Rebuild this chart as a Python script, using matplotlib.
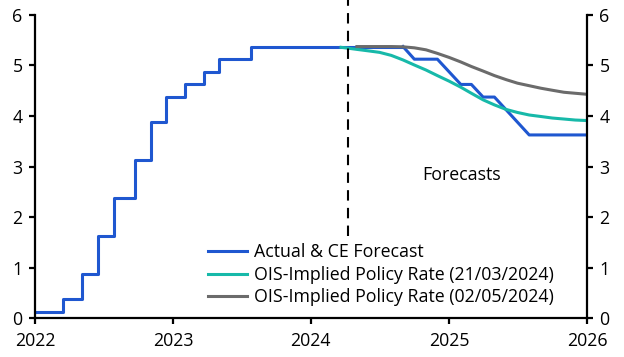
import matplotlib.pyplot as plt
import matplotlib.dates as mdates
import pandas as pd

# -----------------------------
# Data
# -----------------------------
# actual policy rate (midpoint), step changes
hist_dates = ["2022-01-01", "2022-03-17", "2022-05-05", "2022-06-16", "2022-07-28",
              "2022-09-22", "2022-11-03", "2022-12-15", "2023-02-02", "2023-03-23",
              "2023-05-04", "2023-07-27", "2024-09-01"]
hist_rate = [0.125, 0.375, 0.875, 1.625, 2.375, 3.125, 3.875, 4.375, 4.625, 4.875,
             5.125, 5.375, 5.375]

# CE forecast
fc_dates = ["2024-09-01", "2024-10-01", "2024-12-01", "2025-02-01", "2025-03-01",
            "2025-04-01", "2025-05-01", "2025-08-01", "2026-01-01"]
fc_rate = [5.375, 5.125, 5.125, 4.625, 4.625, 4.375, 4.375, 3.625, 3.625]

# OIS-implied (21/03/2024)
ois_mar_dates = ["2024-03-21", "2024-04-01", "2024-05-01", "2024-06-01", "2024-07-01",
                 "2024-08-01", "2024-09-01", "2024-10-01", "2024-11-01", "2024-12-01",
                 "2025-01-01", "2025-02-01", "2025-03-01", "2025-04-01", "2025-05-01",
                 "2025-06-01", "2025-07-01", "2025-08-01", "2025-09-01", "2025-10-01",
                 "2025-11-01", "2025-12-01", "2026-01-01"]
ois_mar = [5.36, 5.35, 5.32, 5.29, 5.26, 5.20, 5.11, 5.01, 4.91, 4.80,
           4.69, 4.57, 4.45, 4.32, 4.22, 4.13, 4.07, 4.02, 3.99, 3.96,
           3.94, 3.92, 3.91]

# OIS-implied (02/05/2024)
ois_may_dates = ["2024-05-02", "2024-06-01", "2024-07-01", "2024-08-01", "2024-09-01",
                 "2024-10-01", "2024-11-01", "2024-12-01", "2025-01-01", "2025-02-01",
                 "2025-03-01", "2025-04-01", "2025-05-01", "2025-06-01", "2025-07-01",
                 "2025-08-01", "2025-09-01", "2025-10-01", "2025-11-01", "2025-12-01",
                 "2026-01-01"]
ois_may = [5.375, 5.375, 5.375, 5.375, 5.37, 5.35, 5.31, 5.24, 5.16, 5.07,
           4.98, 4.89, 4.80, 4.72, 4.65, 4.60, 4.55, 4.51, 4.47, 4.45,
           4.43]

forecast_start = "2024-04-08"

BLUE = "#1f57d0"
TEAL = "#17b9a9"
GREY = "#6b6b6b"

plt.rcParams["font.family"] = ["Open Sans", "DejaVu Sans"]
plt.rcParams["font.size"] = 12.8

# -----------------------------
# Plot
# -----------------------------
fig = plt.figure(figsize=(6.24, 3.57), dpi=100)
ax = fig.add_axes([0.0561, 0.1092, 0.8846, 0.8488])

ax.plot(pd.to_datetime(hist_dates), hist_rate, drawstyle="steps-post",
        color=BLUE, lw=2.2, label="Actual & CE Forecast")
ax.plot(pd.to_datetime(fc_dates), fc_rate, color=BLUE, lw=2.2)
ax.plot(pd.to_datetime(ois_mar_dates), ois_mar, color=TEAL, lw=2.2,
        label="OIS-Implied Policy Rate (21/03/2024)")
ax.plot(pd.to_datetime(ois_may_dates), ois_may, color=GREY, lw=2.2,
        label="OIS-Implied Policy Rate (02/05/2024)")

ax.axvline(pd.Timestamp(forecast_start), ymin=0.27, ymax=1.06, color="black",
           lw=1.5, dashes=(5, 3.5), clip_on=False)

ax.text(pd.Timestamp("2025-02-04"), 2.83, "Forecasts", ha="center", va="center")

ax.set_xlim(pd.Timestamp("2022-01-01"), pd.Timestamp("2026-01-01"))
ax.set_ylim(0, 6)
ax.xaxis.set_major_locator(mdates.YearLocator())
ax.xaxis.set_major_formatter(mdates.DateFormatter("%Y"))

ax2 = ax.twinx()
ax2.set_ylim(0, 6)

for a in (ax, ax2):
    a.spines["top"].set_visible(False)
    for s in a.spines.values():
        s.set_linewidth(1.6)
    a.tick_params(width=1.6, length=4, labelsize=12.8, pad=5)
ax.tick_params(axis="x", pad=6)
ax.spines["right"].set_visible(False)
ax2.spines["left"].set_visible(False)
ax2.spines["bottom"].set_visible(False)

ax.legend(loc="lower left", bbox_to_anchor=(0.3, 0.015), frameon=False,
          handlelength=2.2, handletextpad=0.4, labelspacing=0.25,
          borderaxespad=0)

fig.savefig("out.png", dpi=100)
